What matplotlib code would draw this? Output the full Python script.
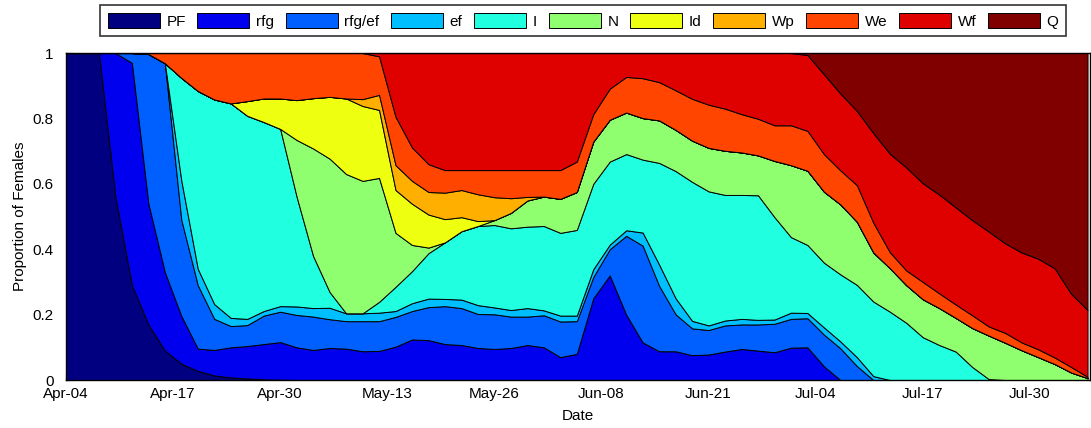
import numpy as np
import pandas as pd
import matplotlib
matplotlib.use("Agg")
import matplotlib.pyplot as plt
import matplotlib.dates as mdates

plt.rcParams['font.family'] = ['Liberation Sans', 'DejaVu Sans']

# sampling days (offset from Apr-04), every second day
start = pd.Timestamp('2013-04-04')
day_offset = list(range(0, 125, 2))

# cumulative upper edge of each stage (proportion of females)
top_pf = [1.0, 1.0, 1.0, 0.56, 0.29, 0.17, 0.09, 0.05, 0.028, 0.014, 0.008, 0.005, 0.002, 0.001,
          0, 0, 0, 0, 0, 0, 0, 0, 0, 0, 0, 0, 0, 0, 0, 0, 0, 0, 0, 0, 0, 0, 0, 0, 0, 0,
          0, 0, 0, 0, 0, 0, 0, 0, 0, 0, 0, 0, 0, 0, 0, 0, 0, 0, 0, 0, 0, 0, 0]
top_rfg = [1.0, 1.0, 1.0, 1.0, 0.97, 0.54, 0.33, 0.196, 0.096, 0.092, 0.10, 0.104, 0.11, 0.116,
           0.10, 0.092, 0.098, 0.096, 0.088, 0.089, 0.102, 0.124, 0.122, 0.11, 0.107, 0.098,
           0.095, 0.098, 0.107, 0.10, 0.07, 0.08, 0.25, 0.32, 0.2, 0.115, 0.088, 0.088,
           0.076, 0.078, 0.087, 0.095, 0.09, 0.085, 0.099, 0.1, 0.042,
           0, 0, 0, 0, 0, 0, 0, 0, 0, 0, 0, 0, 0, 0, 0, 0]
top_rfgef = [1.0, 1.0, 1.0, 1.0, 1.0, 0.997, 0.969, 0.49, 0.29, 0.187, 0.165, 0.168, 0.197, 0.209,
             0.199, 0.194, 0.186, 0.18, 0.18, 0.18, 0.193, 0.211, 0.223, 0.226, 0.22, 0.202,
             0.201, 0.194, 0.194, 0.198, 0.179, 0.18, 0.315, 0.40, 0.441, 0.411, 0.288, 0.201,
             0.158, 0.153, 0.167, 0.17, 0.17, 0.172, 0.187, 0.189, 0.139, 0.097, 0.043,
             0, 0, 0, 0, 0, 0, 0, 0, 0, 0, 0, 0, 0, 0]
top_ef = [1.0, 1.0, 1.0, 1.0, 1.0, 0.997, 0.969, 0.61, 0.34, 0.232, 0.19, 0.187, 0.211, 0.226,
          0.225, 0.22, 0.221, 0.204, 0.204, 0.206, 0.211, 0.235, 0.249, 0.248, 0.246, 0.229,
          0.222, 0.214, 0.22, 0.213, 0.197, 0.197, 0.339, 0.414, 0.458, 0.451, 0.353, 0.25,
          0.181, 0.167, 0.182, 0.187, 0.184, 0.185, 0.206, 0.205, 0.161, 0.118, 0.07, 0.012,
          0, 0, 0, 0, 0, 0, 0, 0, 0, 0, 0, 0, 0]
top_i = [1.0, 1.0, 1.0, 1.0, 1.0, 0.997, 0.969, 0.924, 0.884, 0.858, 0.846, 0.808, 0.789, 0.768,
         0.56, 0.379, 0.269, 0.204, 0.204, 0.239, 0.285, 0.333, 0.388, 0.421, 0.455, 0.471,
         0.474, 0.464, 0.469, 0.471, 0.45, 0.459, 0.60, 0.668, 0.691, 0.674, 0.664, 0.639,
         0.606, 0.577, 0.566, 0.566, 0.565, 0.498, 0.437, 0.413, 0.359, 0.323, 0.291, 0.24,
         0.209, 0.175, 0.131, 0.107, 0.087, 0.04, 0.003, 0, 0, 0, 0, 0, 0]
top_n = [1.0, 1.0, 1.0, 1.0, 1.0, 0.997, 0.969, 0.924, 0.884, 0.858, 0.846, 0.808, 0.789, 0.768,
         0.734, 0.708, 0.677, 0.63, 0.609, 0.618, 0.45, 0.413, 0.405, 0.421, 0.455, 0.471,
         0.489, 0.511, 0.549, 0.561, 0.554, 0.575, 0.729, 0.796, 0.818, 0.801, 0.794, 0.765,
         0.732, 0.71, 0.701, 0.696, 0.687, 0.67, 0.657, 0.64, 0.576, 0.537, 0.484, 0.39,
         0.342, 0.29, 0.247, 0.22, 0.19, 0.159, 0.136, 0.114, 0.091, 0.07, 0.049, 0.023, 0.006]
top_id = [1.0, 1.0, 1.0, 1.0, 1.0, 0.997, 0.969, 0.924, 0.884, 0.858, 0.846, 0.853, 0.861, 0.861,
          0.856, 0.862, 0.866, 0.861, 0.838, 0.826, 0.581, 0.539, 0.506, 0.492, 0.498, 0.486,
          0.489, 0.511, 0.549, 0.561, 0.554, 0.575, 0.729, 0.796, 0.818, 0.801, 0.794, 0.765,
          0.732, 0.71, 0.701, 0.696, 0.687, 0.67, 0.657, 0.64, 0.576, 0.537, 0.484, 0.39,
          0.342, 0.29, 0.247, 0.22, 0.19, 0.159, 0.136, 0.114, 0.091, 0.07, 0.049, 0.023, 0.006]
top_wp = [1.0, 1.0, 1.0, 1.0, 1.0, 0.997, 0.969, 0.924, 0.884, 0.858, 0.846, 0.853, 0.861, 0.861,
          0.856, 0.862, 0.866, 0.861, 0.859, 0.872, 0.657, 0.609, 0.575, 0.573, 0.581, 0.568,
          0.559, 0.556, 0.56, 0.561, 0.554, 0.575, 0.729, 0.796, 0.818, 0.801, 0.794, 0.765,
          0.732, 0.71, 0.701, 0.696, 0.687, 0.67, 0.657, 0.64, 0.576, 0.537, 0.484, 0.39,
          0.342, 0.29, 0.247, 0.22, 0.19, 0.159, 0.136, 0.114, 0.091, 0.07, 0.049, 0.023, 0.006]
top_we = [1.0, 1.0, 1.0, 1.0, 1.0, 1.0, 1.0, 1.0, 1.0, 1.0, 1.0, 1.0, 1.0, 1.0, 1.0, 1.0, 1.0,
          1.0, 1.0, 0.99, 0.805, 0.711, 0.66, 0.642, 0.642, 0.642, 0.642, 0.642, 0.642, 0.642,
          0.642, 0.668, 0.813, 0.891, 0.927, 0.923, 0.911, 0.886, 0.86, 0.842, 0.83, 0.813,
          0.799, 0.779, 0.779, 0.762, 0.691, 0.641, 0.596, 0.481, 0.391, 0.335, 0.30, 0.265,
          0.231, 0.198, 0.164, 0.144, 0.115, 0.094, 0.069, 0.04, 0.01]
top_wf = [1.0, 1.0, 1.0, 1.0, 1.0, 1.0, 1.0, 1.0, 1.0, 1.0, 1.0, 1.0, 1.0, 1.0, 1.0, 1.0, 1.0,
          1.0, 1.0, 1.0, 1.0, 1.0, 1.0, 1.0, 1.0, 1.0, 1.0, 1.0, 1.0, 1.0, 1.0, 1.0, 1.0, 1.0,
          1.0, 1.0, 1.0, 1.0, 1.0, 1.0, 1.0, 1.0, 1.0, 1.0, 1.0, 0.994, 0.935, 0.876, 0.823,
          0.755, 0.692, 0.65, 0.602, 0.567, 0.528, 0.489, 0.454, 0.418, 0.39, 0.371, 0.342,
          0.264, 0.214]
top_q = [1.0] * len(day_offset)

stages = ['PF', 'rfg', 'rfg/ef', 'ef', 'I', 'N', 'Id', 'Wp', 'We', 'Wf', 'Q']
stage_colors = ['#000080', '#0000EF', '#0060FF', '#00BFFF', '#20FFDF', '#8FFF70',
                '#EFFF10', '#FFAF00', '#FF4500', '#DF0000', '#800000']
stage_tops = [top_pf, top_rfg, top_rfgef, top_ef, top_i, top_n, top_id, top_wp, top_we, top_wf, top_q]

dates = start + pd.to_timedelta(day_offset, unit='D')

fig = plt.figure(figsize=(10.91, 4.28), dpi=100)
ax = fig.add_axes([0.0605, 0.1121, 0.9386, 0.764])

# stacked areas, each drawn between the edge below and its own edge
lower = np.zeros(len(day_offset))
for name, col, top in zip(stages, stage_colors, stage_tops):
    top = np.array(top, dtype=float)
    ax.fill_between(dates, lower, top, facecolor=col, edgecolor='k', linewidth=0.7, label=name)
    lower = top

ax.set_xlim(start, start + pd.Timedelta(days=124.3))
ax.set_ylim(0, 1)
ax.set_xticks([start + pd.Timedelta(days=13 * k) for k in range(10)])
ax.xaxis.set_major_formatter(mdates.DateFormatter('%b-%d'))
ax.set_yticks([0, 0.2, 0.4, 0.6, 0.8, 1])
ax.set_yticklabels(['0', '0.2', '0.4', '0.6', '0.8', '1'])
ax.set_axisbelow(True)
ax.tick_params(direction='in', length=5, labelsize=11)
ax.tick_params(axis='x', pad=5)
ax.tick_params(axis='y', pad=9)
for sp in ax.spines.values():
    sp.set_linewidth(1.0)

ax.set_xlabel('Date', fontsize=11, labelpad=6)
ax.set_ylabel('Proportion of Females', fontsize=11, labelpad=4)

leg = fig.legend(ncol=11, loc='upper left', bbox_to_anchor=(100 / 1091, 1 - 5 / 428),
                 frameon=True, fancybox=False, edgecolor='k', fontsize=11,
                 handlelength=3.4, handleheight=1.18, handletextpad=0.45,
                 columnspacing=0.75, borderpad=0.5, borderaxespad=0)
leg.get_frame().set_linewidth(1.2)

plt.savefig('out.png', dpi=100)
